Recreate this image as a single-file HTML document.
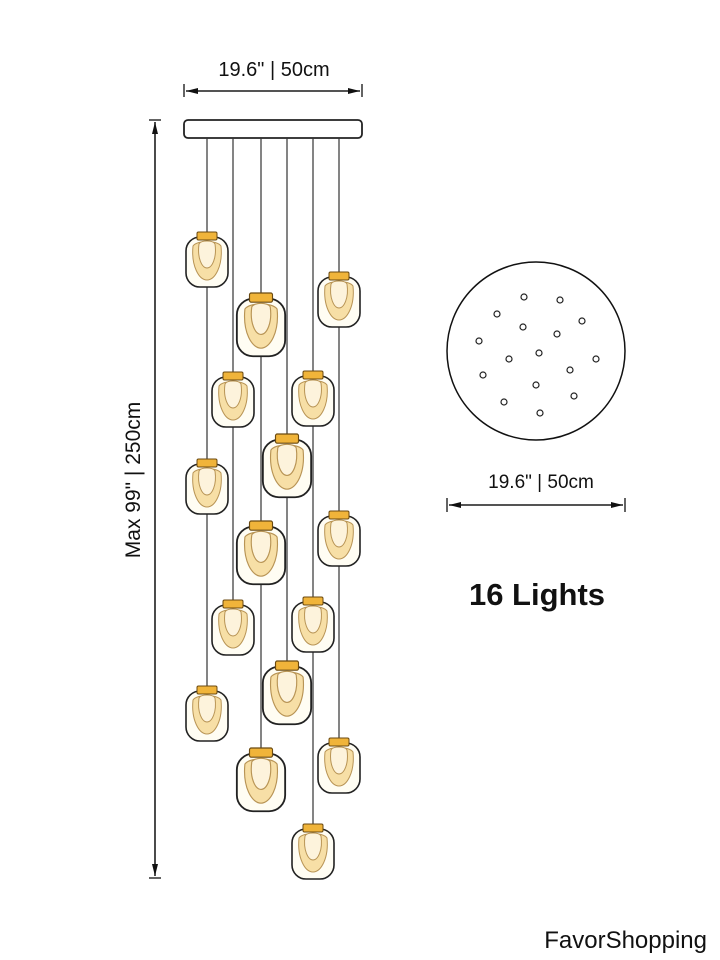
<!DOCTYPE html>
<html><head><meta charset="utf-8"><style>
html,body{margin:0;padding:0;background:#fff;}
svg{display:block;}
text{font-family:"Liberation Sans",sans-serif;fill:#111;}
</style></head><body>
<svg width="720" height="960" viewBox="0 0 720 960" xmlns="http://www.w3.org/2000/svg">
<defs>
<g id="lamp">
 <rect x="-21" y="5" width="42" height="50" rx="14" fill="#fffdf3" stroke="#222" stroke-width="1.6"/>
 <path d="M-14,14 C-16,34 -8,48 0,48 C8,48 16,34 14,14 C10,8 -10,8 -14,14Z" fill="#f7dfa6" stroke="#b89455" stroke-width="1"/>
 <path d="M-8,12 C-10,26 -5,36 0,36 C5,36 10,26 8,12 C6,8 -6,8 -8,12Z" fill="#fdf3dc" stroke="#b89455" stroke-width="1"/>
 <rect x="-10" y="0" width="20" height="8" rx="1.5" fill="#f0b43a" stroke="#6b4a10" stroke-width="1"/>
</g>
<marker id="ah" markerWidth="12" markerHeight="8" refX="12" refY="4" orient="auto" markerUnits="userSpaceOnUse"><path d="M0,1 L12,4 L0,7Z" fill="#111"/></marker>
</defs>

<text x="274" y="76" font-size="20" text-anchor="middle">19.6" | 50cm</text>
<line x1="184" y1="84" x2="184" y2="97" stroke="#111" stroke-width="1.3"/>
<line x1="362" y1="84" x2="362" y2="97" stroke="#111" stroke-width="1.3"/>
<line x1="186" y1="91" x2="360" y2="91" stroke="#111" stroke-width="1.3" marker-end="url(#ah)"/>
<line x1="360" y1="91" x2="186" y2="91" stroke="#111" stroke-width="1.3" marker-end="url(#ah)"/>

<line x1="149" y1="120" x2="161" y2="120" stroke="#111" stroke-width="1.3"/>
<line x1="149" y1="878" x2="161" y2="878" stroke="#111" stroke-width="1.3"/>
<line x1="155" y1="122" x2="155" y2="876" stroke="#111" stroke-width="1.3" marker-end="url(#ah)"/>
<line x1="155" y1="876" x2="155" y2="122" stroke="#111" stroke-width="1.3" marker-end="url(#ah)"/>
<text transform="translate(140,480) rotate(-90)" font-size="21" text-anchor="middle">Max 99" | 250cm</text>

<rect x="184" y="120" width="178" height="18" rx="4" fill="#fff" stroke="#222" stroke-width="1.8"/>

<g stroke="#333" stroke-width="1.2">
<line x1="207" y1="138" x2="207" y2="686"/>
<line x1="233" y1="138" x2="233" y2="600"/>
<line x1="261" y1="138" x2="261" y2="748"/>
<line x1="287" y1="138" x2="287" y2="661"/>
<line x1="313" y1="138" x2="313" y2="824"/>
<line x1="339" y1="138" x2="339" y2="738"/>
</g>

<use href="#lamp" transform="translate(207,232)"/>
<use href="#lamp" transform="translate(207,459)"/>
<use href="#lamp" transform="translate(207,686)"/>
<use href="#lamp" transform="translate(233,372)"/>
<use href="#lamp" transform="translate(233,600)"/>
<use href="#lamp" transform="translate(261,293) scale(1.15)"/>
<use href="#lamp" transform="translate(261,521) scale(1.15)"/>
<use href="#lamp" transform="translate(261,748) scale(1.15)"/>
<use href="#lamp" transform="translate(287,434) scale(1.15)"/>
<use href="#lamp" transform="translate(287,661) scale(1.15)"/>
<use href="#lamp" transform="translate(313,371)"/>
<use href="#lamp" transform="translate(313,597)"/>
<use href="#lamp" transform="translate(313,824)"/>
<use href="#lamp" transform="translate(339,272)"/>
<use href="#lamp" transform="translate(339,511)"/>
<use href="#lamp" transform="translate(339,738)"/>

<circle cx="536" cy="351" r="89" fill="#fff" stroke="#111" stroke-width="1.5"/>
<g fill="none" stroke="#222" stroke-width="1.2">
<circle cx="524" cy="297" r="3"/><circle cx="560" cy="300" r="3"/><circle cx="497" cy="314" r="3"/>
<circle cx="582" cy="321" r="3"/><circle cx="523" cy="327" r="3"/><circle cx="557" cy="334" r="3"/>
<circle cx="479" cy="341" r="3"/><circle cx="539" cy="353" r="3"/><circle cx="509" cy="359" r="3"/>
<circle cx="596" cy="359" r="3"/><circle cx="570" cy="370" r="3"/><circle cx="483" cy="375" r="3"/>
<circle cx="536" cy="385" r="3"/><circle cx="574" cy="396" r="3"/><circle cx="504" cy="402" r="3"/>
<circle cx="540" cy="413" r="3"/>
</g>

<text x="541" y="488" font-size="19" text-anchor="middle">19.6" | 50cm</text>
<line x1="447" y1="498" x2="447" y2="512" stroke="#111" stroke-width="1.3"/>
<line x1="625" y1="498" x2="625" y2="512" stroke="#111" stroke-width="1.3"/>
<line x1="449" y1="505" x2="623" y2="505" stroke="#111" stroke-width="1.3" marker-end="url(#ah)"/>
<line x1="623" y1="505" x2="449" y2="505" stroke="#111" stroke-width="1.3" marker-end="url(#ah)"/>

<text x="537" y="605" font-size="31" font-weight="bold" text-anchor="middle">16 Lights</text>
<text x="707" y="948" font-size="24" text-anchor="end">FavorShopping</text>
</svg>
</body></html>
